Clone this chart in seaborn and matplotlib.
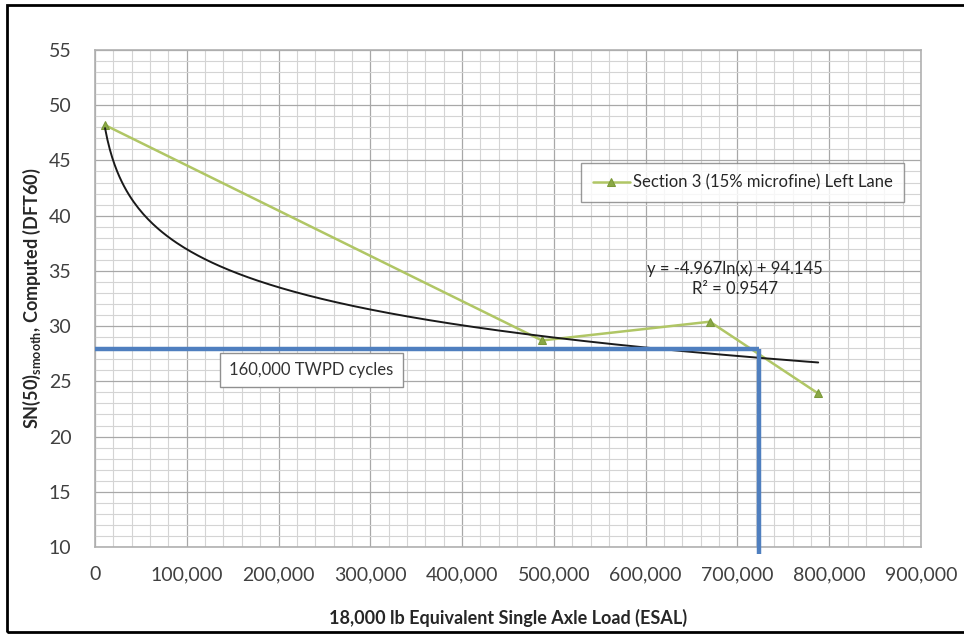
import numpy as np
import pandas as pd
import seaborn as sns
import matplotlib.pyplot as plt
from matplotlib.patches import Rectangle
from matplotlib.ticker import MultipleLocator, FuncFormatter

# measured skid number vs ESAL, Section 3 left lane
esal = [11000, 487000, 670000, 788000]
sn_smooth = [48.2, 28.7, 30.4, 23.9]
series_name = 'Section 3 (15% microfine) Left Lane'

# log trendline reported in the chart
fit_a = -4.967
fit_b = 94.145
fit_text = 'y = -4.967ln(x) + 94.145\nR² = 0.9547'

# 160,000 TWPD cycles marker lines
twpd_sn = 27.9
twpd_esal = 723000
twpd_label = '160,000 TWPD cycles'

sns.set_style('white')
plt.rcParams['font.family'] = ['Lato', 'DejaVu Sans']

fig = plt.figure(figsize=(9.64, 6.4), dpi=100)
ax = fig.add_axes([0.0985, 0.1453, 0.8569, 0.7766])

df = pd.DataFrame({'ESAL': esal, 'SN': sn_smooth})

# trendline
xs = np.linspace(esal[0], esal[-1], 300)
ax.plot(xs, fit_a * np.log(xs) + fit_b, color='#1a1a1a', lw=1.4, zorder=4)

sns.lineplot(data=df, x='ESAL', y='SN', ax=ax, color='#b0c665', lw=1.8,
             marker='^', markersize=6, markerfacecolor='#8aa845',
             markeredgecolor='#7a9838', label=series_name, zorder=3)

# blue reference lines
ax.plot([0, twpd_esal], [twpd_sn, twpd_sn], color='#4f7fbf', lw=3.2,
        solid_capstyle='butt', zorder=5)
ax.plot([twpd_esal, twpd_esal], [twpd_sn, 9.4], color='#4f7fbf', lw=3.2,
        solid_capstyle='butt', zorder=5, clip_on=False)

ax.set_xlim(0, 900000)
ax.set_ylim(10, 55)
ax.xaxis.set_major_locator(MultipleLocator(100000))
ax.xaxis.set_minor_locator(MultipleLocator(20000))
ax.yaxis.set_major_locator(MultipleLocator(5))
ax.yaxis.set_minor_locator(MultipleLocator(1))
ax.xaxis.set_major_formatter(FuncFormatter(lambda v, p: f'{int(v):,}'))
ax.grid(which='major', color='#a8a8a8', lw=0.9)
ax.grid(which='minor', color='#d4d4d4', lw=0.8)
ax.set_axisbelow(True)
ax.tick_params(which='both', length=0, labelsize=14, labelcolor='#404040')
ax.tick_params(axis='x', pad=14)
ax.tick_params(axis='y', pad=17)
for s in ax.spines.values():
    s.set_color('#b0b0b0')
    s.set_linewidth(1.2)

ax.set_xlabel('18,000 lb Equivalent Single Axle Load (ESAL)', fontsize=13,
              fontweight='bold', color='#262626', labelpad=18)
ax.set_ylabel(r'SN(50)$_{\mathregular{smooth}}$, Computed (DFT60)', fontsize=13,
              fontweight='bold', color='#262626', labelpad=4)

leg = ax.legend(loc='upper right', bbox_to_anchor=(0.99, 0.79), frameon=True,
                fancybox=False, fontsize=12, handlelength=2.2,
                borderpad=0.7, handletextpad=0.2)
leg.get_frame().set_edgecolor('#808080')
leg.get_frame().set_linewidth(1.0)

ax.text(0.775, 0.54, fit_text, transform=ax.transAxes, ha='center',
        va='center', fontsize=12, color='#262626', linespacing=1.3)

ax.text(0.262, 0.356, twpd_label, transform=ax.transAxes, ha='center',
        va='center', fontsize=12, color='#333333', zorder=6,
        bbox=dict(boxstyle='square,pad=0.55', fc='white', ec='#909090', lw=1.0))

# outer frame around the whole figure (right side falls off the image)
fig.patches.append(Rectangle((0.007, 0.012), 1.0, 0.98, transform=fig.transFigure,
                             fill=False, ec='black', lw=2.0))

fig.savefig('out.png', dpi=100)
